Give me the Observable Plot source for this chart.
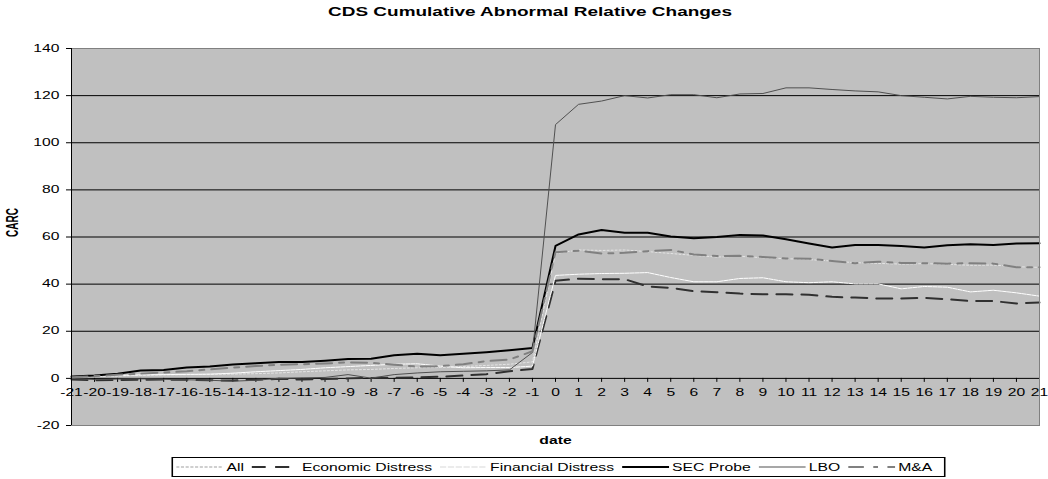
<!DOCTYPE html>
<html>
<head>
<meta charset="utf-8">
<script src="https://cdn.jsdelivr.net/npm/d3@7"></script>
<script src="https://cdn.jsdelivr.net/npm/@observablehq/plot@0.6"></script>
<style>
  body { margin: 0; width: 1048px; height: 479px; position: relative; background: #fff; overflow: hidden;
         font-family: "Liberation Sans", Arial, sans-serif; }
  #title { position: absolute; left: 6px; top: 5px; width: 1048px; text-align: center; font-weight: bold;
           font-size: 12px; line-height: 14px; transform: scaleX(1.58); transform-origin: 524px 0; color: #000; }
  #chart { position: absolute; left: 0; top: 24px; }
  #legend { position: absolute; left: 312px; top: 457px; width: 489px; height: 18px; border: 1px solid #000;
            display: flex; align-items: center; font-size: 10px; transform: scaleX(1.57); transform-origin: center;
            padding-left: 2px; box-sizing: content-box; background: #fff; }
  #legend .item { display: flex; align-items: center; margin-right: 5px; white-space: nowrap; }
  #legend svg { display: block; }
  #legend span { margin-left: 2px; }
</style>
</head>
<body>
<div id="title">CDS Cumulative Abnormal Relative Changes</div>
<div id="chart"></div>
<div id="legend"></div>
<script>
// ---- data ----
const dates = [-21,-20,-19,-18,-17,-16,-15,-14,-13,-12,-11,-10,-9,-8,-7,-6,-5,-4,-3,-2,-1,
               0,1,2,3,4,5,6,7,8,9,10,11,12,13,14,15,16,17,18,19,20,21];
const yTicks = [-20, 0, 20, 40, 60, 80, 100, 120, 140];
const gridValues = [20, 40, 60, 80, 100, 120];
const seriesNames = ["All", "Economic Distress", "Financial Distress", "SEC Probe", "LBO", "M&A"];

const allValues = [0.5,0.8,1.0,1.3,1.5,1.6,1.7,1.8,2.0,2.3,2.8,3.2,3.6,3.8,4.2,4.5,4.6,5.0,5.5,6.0,7.0,
  53.0,54.5,54.3,54.5,53.8,53.0,52.2,51.5,51.8,51.2,50.8,50.4,49.8,49.1,48.8,48.5,48.7,48.4,48.0,48.1,47.4,47.1];
const economicDistress = [-0.5,-0.8,-0.7,-0.6,-0.5,-0.6,-0.8,-0.9,-0.6,-0.2,-0.5,-0.3,0.0,0.2,0.3,0.4,0.7,1.2,1.8,3.0,4.0,
  41.4,42.3,42.1,42.1,39.0,38.4,37.0,36.6,36.0,35.7,35.7,35.5,34.6,34.3,33.9,33.9,34.2,33.6,32.8,32.8,31.8,32.2];
const financialDistress = [1.0,1.0,1.2,1.5,1.6,1.7,1.8,2.2,2.8,3.3,3.8,4.5,5.0,5.5,6.0,6.2,5.2,4.5,4.6,4.6,5.2,
  43.7,44.2,44.5,44.6,44.9,42.8,41.0,41.0,42.4,42.7,41.0,40.6,41.0,40.1,40.1,38.0,39.0,38.7,36.7,37.4,36.3,34.9];
const secProbe = [0.8,1.2,2.0,3.3,3.6,4.6,5.0,5.9,6.4,7.0,7.0,7.5,8.2,8.3,9.8,10.4,9.8,10.4,11.1,11.9,12.9,
  56.2,61.1,63.0,61.8,61.8,60.2,59.5,60.0,60.9,60.6,59.0,57.2,55.5,56.6,56.6,56.2,55.5,56.5,56.9,56.6,57.2,57.3];
const lbo = [0.0,-0.5,-0.3,-0.2,-0.4,-0.6,-0.8,-1.2,-0.8,0.0,0.2,0.4,1.6,0.1,1.6,2.3,2.8,3.0,3.2,3.6,11.0,
  107.7,116.3,117.7,120.0,119.0,120.4,120.4,119.1,120.7,120.9,123.3,123.3,122.6,122.0,121.6,120.0,119.3,118.6,119.7,119.3,119.1,119.6];
const mna = [0.5,1.0,1.5,2.0,2.5,3.0,3.8,4.6,5.2,5.8,6.0,6.3,6.8,6.6,5.8,5.0,5.2,6.0,7.3,8.0,11.5,
  53.5,54.2,53.0,53.3,54.0,54.5,52.6,51.9,52.0,51.5,50.9,50.8,49.8,48.9,49.5,49.0,48.9,48.7,48.9,48.7,47.2,47.2];

const seriesValues = [allValues, economicDistress, financialDistress, secProbe, lbo, mna];

// ---- styles ----
const lineStyles = {
  "All":                {stroke: "#e4e4e4", strokeWidth: 1, strokeDasharray: "2,2"},
  "Economic Distress":  {stroke: "#303030", strokeWidth: 2, strokeDasharray: "16,9"},
  "Financial Distress": {stroke: "#ffffff", strokeWidth: 1, strokeDasharray: "4,1"},
  "SEC Probe":          {stroke: "#000000", strokeWidth: 2, strokeDasharray: null},
  "LBO":                {stroke: "#505050", strokeWidth: 1, strokeDasharray: null},
  "M&A":                {stroke: "#808080", strokeWidth: 2, strokeDasharray: "16,7,5,7"}
};

const rows = [];
seriesNames.forEach((name, s) => {
  seriesValues[s].forEach((v, i) => rows.push({series: name, date: dates[i], value: v}));
});

const lineMarks = seriesNames.map(name => {
  const st = lineStyles[name];
  const opts = {x: "date", y: "value", stroke: st.stroke, strokeWidth: st.strokeWidth};
  if (st.strokeDasharray) opts.strokeDasharray = st.strokeDasharray;
  return Plot.line(rows.filter(r => r.series === name), opts);
});

const chart = Plot.plot({
  width: 1048,
  height: 426,
  marginTop: 24,
  marginBottom: 25,
  marginLeft: 71,
  marginRight: 9,
  x: {type: "linear", domain: [-21, 21], axis: null},
  y: {domain: [-20, 140], axis: null},
  style: {fontFamily: "'Liberation Sans', Arial, sans-serif", fontSize: "10px", background: "#fff", overflow: "visible", color: "#000"},
  marks: [
    Plot.frame({fill: "#c0c0c0", stroke: null}),
    Plot.ruleY(gridValues, {stroke: "#000", strokeWidth: 1}),
    Plot.ruleY([0], {stroke: "#000", strokeWidth: 1}),
    Plot.ruleX(dates, {x: d => d, y1: 0, y2: -1.7, stroke: "#000"}),
    Plot.text(dates, {x: d => d, y: 0, dy: 14, text: d => String(d), fill: "#000", fontSize: 10}),
    Plot.axisY({ticks: yTicks, tickSize: 5, tickPadding: 7, tickFormat: d => String(d), label: null, fontSize: 10, stroke: "#000"}),
    ...lineMarks,
    Plot.frame({stroke: "#808080", fill: null}),
    Plot.ruleX([-21], {stroke: "#000"}),
    Plot.text(["CARC"], {frameAnchor: "left", dx: -59, rotate: -90, fontWeight: "bold", fontSize: 10, fill: "#000"}),
    Plot.text(["date"], {frameAnchor: "bottom", dy: 15, lineAnchor: "middle", fontWeight: "bold", fontSize: 10, fill: "#000"})
  ]
});

// The reference image is horizontally stretched: widen glyphs the same way
chart.querySelectorAll("text").forEach(t => {
  const tr = t.getAttribute("transform") || "";
  if (/rotate/.test(tr)) t.setAttribute("transform", tr + " scale(1,1.57)");
  else t.setAttribute("transform", tr + " scale(1.57,1)");
});

document.getElementById("chart").appendChild(chart);

// ---- legend ----
const legend = document.getElementById("legend");
seriesNames.forEach(name => {
  const st = lineStyles[name];
  const item = document.createElement("div");
  item.className = "item";
  const legendStroke = name === "All" ? "#a0a0a0" : name === "Financial Distress" ? "#d8d8d8" : st.stroke;
  const dash = name === "Economic Distress" ? "9,6" : name === "M&A" ? "10,6,3,6" : name === "All" ? "2,1" : st.strokeDasharray;
  item.innerHTML = `<svg width="30" height="10"><line x1="0" x2="30" y1="5" y2="5" stroke="${legendStroke}" stroke-width="${st.strokeWidth}" ${dash ? `stroke-dasharray="${dash}"` : ""}/></svg><span>${name.replace("&", "&amp;")}</span>`;
  legend.appendChild(item);
});
</script>
</body>
</html>
